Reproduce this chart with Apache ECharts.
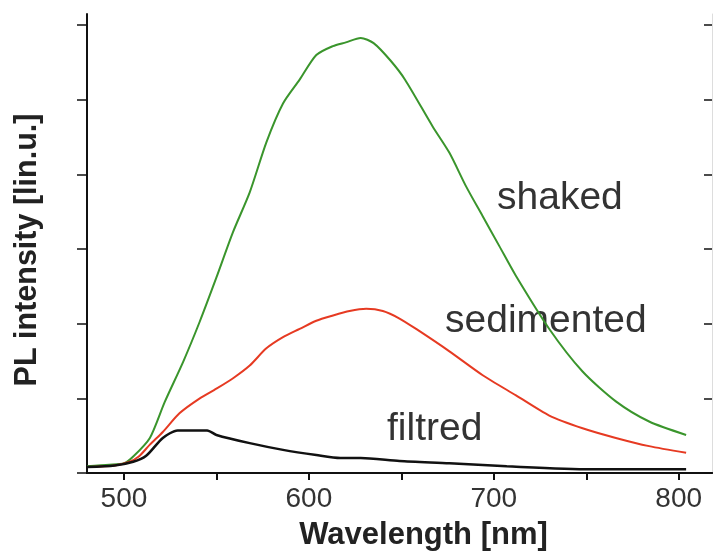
<!DOCTYPE html>
<html>
<head>
<meta charset="utf-8">
<style>
  html, body { margin: 0; padding: 0; background: #fff; }
  #main { width: 713px; height: 556px; }
</style>
<script src="https://cdn.jsdelivr.net/npm/echarts@6/dist/echarts.min.js"></script>
</head>
<body>
<div id="main"></div>
<script>
var myChart = echarts.init(document.getElementById('main'));

// wavelength [nm] and PL intensity (tick units)
var shakedWl = [480, 492, 500, 505, 514, 522, 532, 541, 550, 559, 568, 577, 586, 595, 604, 613, 620, 628, 635, 644, 652, 667, 676, 685, 694, 703, 712, 730, 748, 766, 784, 804];
var shakedVal = [0.09, 0.11, 0.13, 0.22, 0.47, 0.95, 1.49, 2.03, 2.62, 3.23, 3.76, 4.43, 4.95, 5.27, 5.6, 5.72, 5.77, 5.83, 5.76, 5.53, 5.27, 4.64, 4.29, 3.84, 3.44, 3.04, 2.64, 1.93, 1.36, 0.96, 0.69, 0.51];

var sedimentedWl = [480, 495, 503, 508, 514, 521, 530, 541, 550, 559, 568, 577, 586, 595, 604, 613, 622, 631, 640, 649, 658, 676, 694, 712, 730, 748, 766, 784, 804];
var sedimentedVal = [0.08, 0.1, 0.15, 0.22, 0.38, 0.55, 0.8, 1.0, 1.13, 1.27, 1.44, 1.67, 1.82, 1.93, 2.04, 2.11, 2.17, 2.2, 2.17, 2.07, 1.93, 1.63, 1.31, 1.04, 0.77, 0.6, 0.47, 0.36, 0.27];

var filtredWl = [480, 495, 505, 512, 521, 529, 541, 545, 550, 568, 586, 604, 617, 628, 649, 676, 707, 752, 804];
var filtredVal = [0.08, 0.1, 0.15, 0.23, 0.47, 0.57, 0.57, 0.57, 0.51, 0.4, 0.31, 0.24, 0.2, 0.2, 0.16, 0.13, 0.09, 0.05, 0.05];

var xLabels = [500, 600, 700, 800];
var xTicks = [500, 550, 600, 650, 700, 750, 800];
var yTicks = [0, 1, 2, 3, 4, 5, 6];

var zip = function (xs, ys) {
    var res = [];
    for (var i = 0; i < xs.length; i++) {
        res.push([xs[i], ys[i]]);
    }
    return res;
};

var axisColor = '#111';
var textColor = '#333';

var lineSeries = function (name, wl, val, color, width) {
    return {
        name: name,
        type: 'line',
        data: zip(wl, val),
        showSymbol: false,
        smooth: 0.25,
        lineStyle: { color: color, width: width },
        z: 3
    };
};

option = {
    animation: false,
    grid: { left: 87, right: 1, top: 14, bottom: 81 },
    xAxis: [
        {
            type: 'value',
            min: 480,
            max: 818,
            name: 'Wavelength [nm]',
            nameLocation: 'middle',
            nameGap: 47,
            nameTextStyle: {
                fontFamily: 'Liberation Sans, Arial, sans-serif',
                fontWeight: 'bold',
                fontSize: 31,
                color: '#222',
                padding: [0, 0, 0, 48]
            },
            axisLine: { lineStyle: { color: axisColor, width: 2 } },
            axisTick: { customValues: xTicks, length: 7, lineStyle: { color: axisColor, width: 2 } },
            axisLabel: {
                customValues: xLabels,
                margin: 12,
                fontFamily: 'Liberation Sans Narrow, Liberation Sans, sans-serif',
                fontSize: 28,
                color: textColor
            },
            splitLine: { show: false }
        },
        {
            type: 'value',
            position: 'top',
            min: 480,
            max: 818,
            axisLine: { show: true, lineStyle: { color: axisColor, width: 2 } },
            axisTick: { show: false },
            axisLabel: { show: false },
            splitLine: { show: false }
        }
    ],
    yAxis: [
        {
            type: 'value',
            min: 0,
            max: 6.15,
            name: 'PL intensity [lin.u.]',
            nameLocation: 'middle',
            nameGap: 44,
            nameTextStyle: {
                fontFamily: 'Liberation Sans, Arial, sans-serif',
                fontWeight: 'bold',
                fontSize: 30.5,
                color: '#222',
                padding: [0, 13, 0, 0]
            },
            axisLine: { show: true, lineStyle: { color: axisColor, width: 2 } },
            axisTick: { customValues: yTicks, length: 10, lineStyle: { color: axisColor, width: 1.5 } },
            axisLabel: { show: false },
            splitLine: { show: false }
        },
        {
            type: 'value',
            position: 'right',
            min: 0,
            max: 6.15,
            // barely visible edge in the scan
            axisLine: { show: true, lineStyle: { color: '#dddddd', width: 1 } },
            axisTick: { show: true, inside: true, customValues: yTicks, length: 8, lineStyle: { color: axisColor, width: 1.5 } },
            axisLabel: { show: false },
            splitLine: { show: false }
        }
    ],
    graphic: [
        { type: 'text', x: 497, y: 198, style: { text: 'shaked', fill: textColor, font: '39px Liberation Sans, Arial, sans-serif', verticalAlign: 'middle' } },
        { type: 'text', x: 445, y: 321.5, style: { text: 'sedimented', fill: textColor, font: '39px Liberation Sans, Arial, sans-serif', verticalAlign: 'middle' } },
        { type: 'text', x: 387, y: 429.5, style: { text: 'filtred', fill: textColor, font: '39px Liberation Sans, Arial, sans-serif', verticalAlign: 'middle' } }
    ],
    series: [
        lineSeries('shaked', shakedWl, shakedVal, '#3a952c', 2),
        lineSeries('sedimented', sedimentedWl, sedimentedVal, '#e63a22', 2),
        lineSeries('filtred', filtredWl, filtredVal, '#111111', 2.5)
    ]
};

myChart.setOption(option);
</script>
</body>
</html>
